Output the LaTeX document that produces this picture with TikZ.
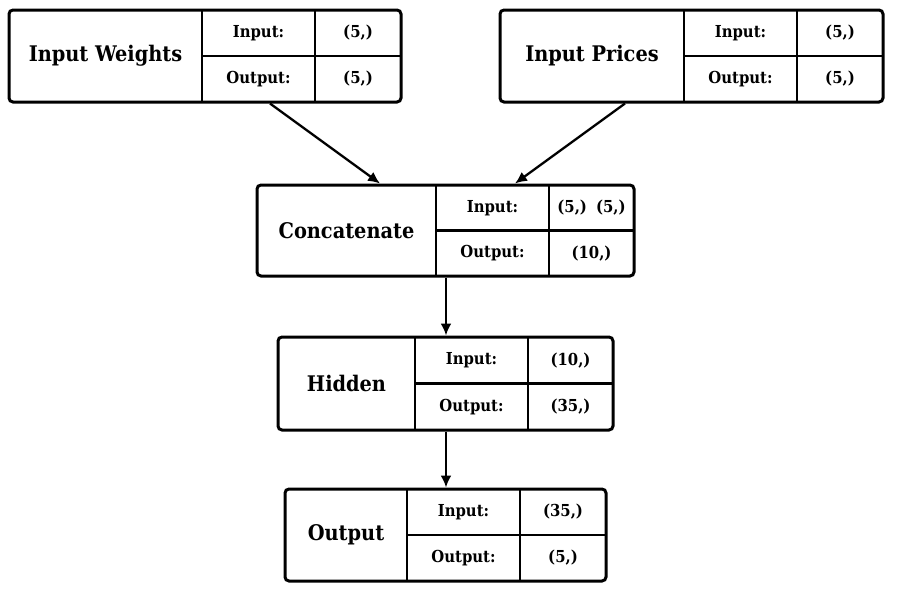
\documentclass[tikz,border=0pt]{standalone}
\usepackage{fontspec}
\setmainfont{DejaVu Serif Condensed}
\usetikzlibrary{arrows.meta}
\tikzset{
  lay/.style={draw, line width=3pt, rounded corners=4pt, inner sep=0pt},
  sep/.style={line width=2.2pt},
  ttl/.style={font=\bfseries\fontsize{21.5}{25}\selectfont, inner sep=0pt},
  lbl/.style={font=\bfseries\fontsize{16.5}{20}\selectfont, inner sep=0pt},
  conn/.style={line width=2.3pt, -{Latex[length=12pt,width=11pt]}},
}
% \lbox{name}{x1}{y1}{x2}{y2}{d1}{d2}{title}{in}\lout{out}
\newcommand\lbox[9]{%
  \def\lnm{#1}\def\lxa{#2}\def\lya{#3}\def\lxb{#4}\def\lyb{#5}%
  \def\lda{#6}\def\ldb{#7}\def\ltt{#8}\def\lin{#9}\lboxfin}
\newcommand\lboxfin[1]{%
  \pgfmathsetmacro\cx{(\lxa+\lxb)/2}\pgfmathsetmacro\cy{(\lya+\lyb)/2}%
  \pgfmathsetmacro\ww{\lxb-\lxa}\pgfmathsetmacro\hh{\lyb-\lya}%
  \node[lay, minimum width=\ww pt, minimum height=\hh pt] (\lnm) at (\cx,\cy) {};
  \draw[sep] (\lda,\lya) -- (\lda,\lyb);
  \draw[sep] (\ldb,\lya) -- (\ldb,\lyb);
  \draw[sep] (\lda,\cy) -- (\lxb,\cy);
  \pgfmathsetmacro\ta{(\lxa+\lda)/2}\pgfmathsetmacro\la{(\lda+\ldb)/2}\pgfmathsetmacro\va{(\ldb+\lxb)/2}%
  \pgfmathsetmacro\ysa{(\lya+\cy)/2}\pgfmathsetmacro\ysb{(\cy+\lyb)/2}%
  \node[ttl] (\lnm-t) at (\ta,\cy) {\ltt};
  \node[lbl] (\lnm-il) at (\la,\ysa) {Input:};
  \node[lbl] (\lnm-ol) at (\la,\ysb) {Output:};
  \node[lbl] (\lnm-iv) at (\va,\ysa) {\lin};
  \node[lbl] (\lnm-ov) at (\va,\ysb) {#1};
}
\begin{document}
\begin{tikzpicture}[x=1pt,y=-1pt]
\useasboundingbox (0,0) rectangle (898,595);
\lbox{w}{9}{10}{401}{102}{202}{315}{Input Weights}{(5,)}{(5,)}
\lbox{p}{500}{10}{883}{102}{684}{797}{Input Prices}{(5,)}{(5,)}
\lbox{c}{257}{185}{634}{276}{436}{549}{Concatenate}{(5,)\hspace{9pt}(5,)}{(10,)}
\lbox{h}{278}{337}{613}{430}{415}{528}{Hidden}{(10,)}{(35,)}
\lbox{o}{285}{489}{606}{581}{407}{520}{Output}{(35,)}{(5,)}
\draw[conn] (w.south -| 270,0) -- (c.north -| 380,0);
\draw[conn] (p.south -| 625,0) -- (c.north -| 515,0);
\draw[conn] (c.south -| 446,0) -- (h.north -| 446,0);
\draw[conn] (h.south -| 446,0) -- (o.north -| 446,0);
\end{tikzpicture}
\end{document}
